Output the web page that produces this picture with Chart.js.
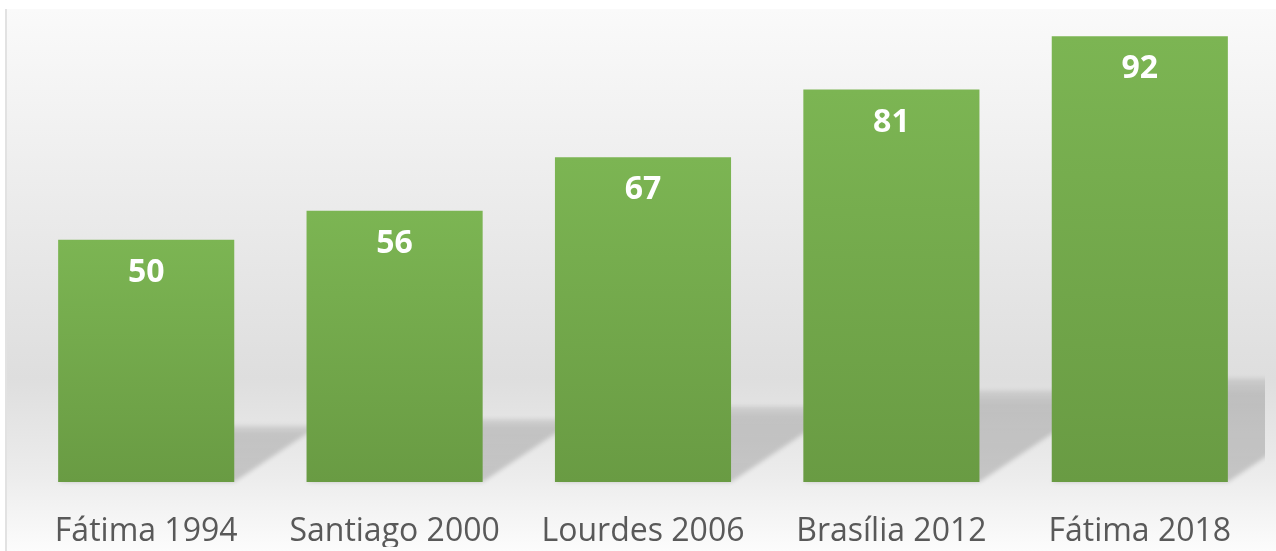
<!DOCTYPE html>
<html>
<head>
<meta charset="utf-8">
<script src="https://cdn.jsdelivr.net/npm/chart.js@4"></script>
<style>
    html, body { margin: 0; padding: 0; background: #ffffff; }
    #wrap { width: 1276px; height: 551px; }
</style>
</head>
<body>
<div id="wrap"><canvas id="chart" width="1276" height="551"></canvas></div>
<script>
const categories = ['Fátima 1994', 'Santiago 2000', 'Lourdes 2006', 'Brasília 2012', 'Fátima 2018'];
const values = [50, 56, 67, 81, 92];
const yMin = 0;
const yMax = 97;

// panel background with the soft gray fade
const backdrop = {
    id: 'backdrop',
    beforeDraw(chart) {
        const c = chart.ctx;
        const w = chart.width, h = chart.height;
        c.save();
        c.fillStyle = '#ffffff';
        c.fillRect(0, 0, w, h);
        const g = c.createLinearGradient(0, 9, 0, h);
        g.addColorStop(0, '#fafafa');
        g.addColorStop(0.68, '#dedede');
        g.addColorStop(0.86, '#ececec');
        g.addColorStop(1, '#fcfcfc');
        c.fillStyle = g;
        c.fillRect(5, 9, w - 5, h - 9);
        c.fillStyle = '#e2e2e2';
        c.fillRect(5, 9, 2, h - 9);
        c.restore();
    }
};

// slanted shadow behind each bar
const barShadow = {
    id: 'barShadow',
    beforeDatasetsDraw(chart) {
        const c = chart.ctx;
        const area = chart.chartArea;
        const bars = chart.getDatasetMeta(0).data;
        c.save();
        c.beginPath();
        c.rect(area.left, 0, area.right - area.left + 1, chart.height);
        c.clip();
        c.filter = 'blur(2px)';
        bars.forEach(bar => {
            const half = bar.width / 2;
            const base = bar.base;
            const hs = (base - bar.y) * 0.233;
            const dx = hs * 1.5;
            const g = c.createLinearGradient(0, base - hs, 0, base);
            g.addColorStop(0, 'rgba(0,0,0,0.08)');
            g.addColorStop(0.15, 'rgba(0,0,0,0.15)');
            g.addColorStop(1, 'rgba(0,0,0,0.17)');
            c.fillStyle = g;
            c.beginPath();
            c.moveTo(bar.x - half, base);
            c.lineTo(bar.x + half, base);
            c.lineTo(bar.x + half + dx, base - hs);
            c.lineTo(bar.x - half + dx, base - hs);
            c.closePath();
            c.fill();
        });
        c.restore();
    }
};

// white value labels near the top of each bar
const valueLabels = {
    id: 'valueLabels',
    afterDatasetsDraw(chart) {
        const c = chart.ctx;
        const bars = chart.getDatasetMeta(0).data;
        c.save();
        c.fillStyle = '#ffffff';
        c.font = 'bold 32px "Open Sans"';
        c.textAlign = 'center';
        c.textBaseline = 'middle';
        bars.forEach((bar, i) => {
            c.fillText(String(values[i]), bar.x, bar.y + 33);
        });
        c.restore();
    }
};

function barFill(context) {
    const chart = context.chart;
    const y = chart.scales.y;
    if (!chart.chartArea || !y) return '#74aa4c';
    const top = y.getPixelForValue(values[context.dataIndex]);
    const bottom = y.getPixelForValue(yMin);
    const g = chart.ctx.createLinearGradient(0, top, 0, bottom);
    g.addColorStop(0, '#7cb553');
    g.addColorStop(1, '#699b43');
    return g;
}

new Chart(document.getElementById('chart').getContext('2d'), {
    type: 'bar',
    data: {
        labels: categories,
        datasets: [{
            data: values,
            backgroundColor: barFill,
            borderWidth: 0,
            categoryPercentage: 1,
            barPercentage: 0.709
        }]
    },
    options: {
        responsive: false,
        animation: false,
        layout: { padding: { left: 22, right: 12, top: 12, bottom: 4 } },
        plugins: {
            legend: { display: false },
            tooltip: { enabled: false }
        },
        scales: {
            x: {
                grid: { display: false, drawTicks: false },
                border: { display: false },
                ticks: {
                    color: '#595959',
                    padding: 34,
                    font: { family: '"Open Sans"', size: 32, lineHeight: 1 }
                },
                afterFit(scale) { scale.height = 65; }
            },
            y: {
                display: false,
                min: yMin,
                max: yMax
            }
        }
    },
    plugins: [backdrop, barShadow, valueLabels]
});
</script>
</body>
</html>
